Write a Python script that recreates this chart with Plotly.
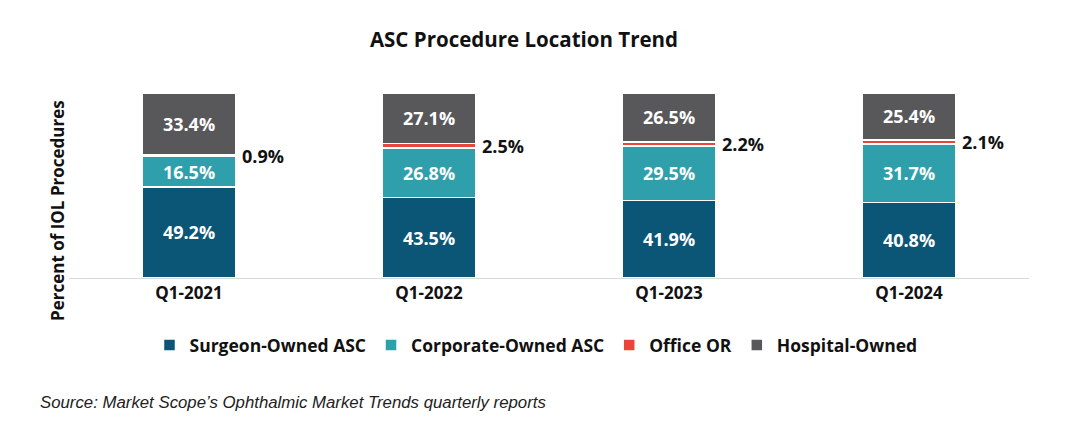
import plotly.graph_objects as go

categories = ["Q1-2021", "Q1-2022", "Q1-2023", "Q1-2024"]
surgeon_owned = [49.2, 43.5, 41.9, 40.8]
corporate_owned = [16.5, 26.8, 29.5, 31.7]
office_or = [0.9, 2.5, 2.2, 2.1]
hospital_owned = [33.4, 27.1, 26.5, 25.4]

series = [
    ("Surgeon-Owned ASC", surgeon_owned, "#0B5577", True),
    ("Corporate-Owned ASC", corporate_owned, "#2E9FAB", True),
    ("Office OR", office_or, "#E8453C", False),
    ("Hospital-Owned", hospital_owned, "#58585A", True),
]

FONT = "Open Sans"
OFF = 8  # page body margin
W, H = 1074 - 2 * OFF, 446 - 2 * OFF
# plot area in reference pixel coordinates: x 69..1029, y 93..278
ML, MT = 69 - OFF, 93 - OFF
MR = W - (1029 - OFF)
MB = H - (278 - OFF)

fig = go.Figure()
for name, vals, color, inside in series:
    fig.add_trace(go.Bar(
        x=categories, y=vals, name=name,
        marker=dict(color=color, line=dict(color="white", width=1.5)),
        text=[f"{v:.1f}%" for v in vals] if inside else None,
        textposition="inside" if inside else "none",
        insidetextanchor="middle",
        textfont=dict(family=FONT, size=18, color="white", weight="bold"),
        hoverinfo="skip",
    ))

annotations = []
for i, cat in enumerate(categories):
    ymid = surgeon_owned[i] + corporate_owned[i] + office_or[i] / 2
    annotations.append(dict(
        x=cat, y=ymid, xref="x", yref="y", text=f"{office_or[i]:.1f}%",
        showarrow=False, xanchor="left", yanchor="middle", xshift=51,
        font=dict(family=FONT, size=18, color="#111111", weight="bold"),
    ))

def px_x(px):
    return (px - OFF - ML) / (W - ML - MR)

def px_y(py):
    return (H - MB - (py - OFF)) / (H - MT - MB)

annotations.append(dict(
    x=px_x(57), y=px_y(211), xref="paper", yref="paper",
    text="Percent of IOL Procedures", textangle=-90, showarrow=False,
    xanchor="center", yanchor="middle",
    font=dict(family=FONT, size=17, color="#111111", weight="bold"),
))
annotations.append(dict(
    x=px_x(38), y=px_y(402), xref="paper", yref="paper",
    text="<i>Source: Market Scope’s Ophthalmic Market Trends quarterly reports</i>",
    showarrow=False, xanchor="left", yanchor="middle",
    font=dict(family="Liberation Sans", size=16.8, color="#222222"),
))

fig.update_layout(
    width=W, height=H,
    margin=dict(l=ML, r=MR, t=MT, b=MB),
    barmode="stack", bargap=0.61,
    paper_bgcolor="white", plot_bgcolor="white",
    title=dict(text="ASC Procedure Location Trend", x=(524 - OFF) / W,
               xanchor="center", y=1 - (40 - OFF) / H, yanchor="middle",
               font=dict(family=FONT, size=20.5, color="#111111", weight="bold")),
    xaxis=dict(showline=True, linecolor="#D9D9D9", linewidth=1, ticks="",
               tickfont=dict(family=FONT, size=17, color="#111111", weight="bold"),
               showgrid=False, fixedrange=True),
    yaxis=dict(range=[0, 100], visible=False, showgrid=False),
    legend=dict(orientation="h", x=px_x(536), xanchor="center", y=px_y(345), yanchor="middle",
                font=dict(family=FONT, size=17.5, color="#111111", weight="bold"),
                traceorder="normal", itemwidth=30),
    annotations=annotations,
    showlegend=True,
)

fig.write_html("out.html")
